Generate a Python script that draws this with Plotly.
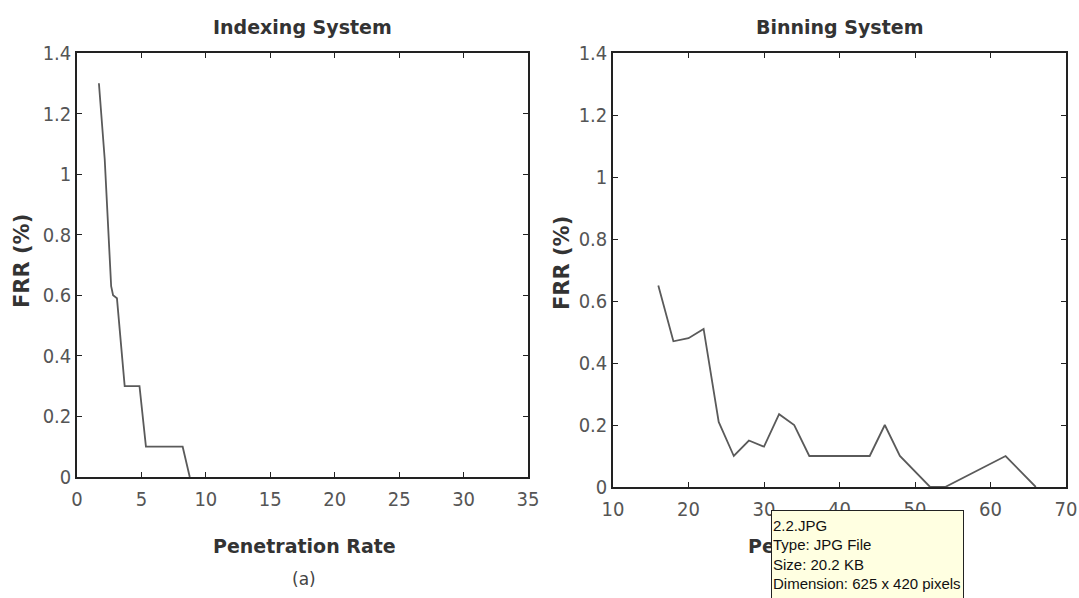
import plotly.graph_objects as go

# Indexing system: FRR (%) against penetration rate
idx_rate = [1.7, 2.0, 2.15, 2.65, 2.8, 3.1, 3.7, 4.85, 5.35, 8.2, 8.75]
idx_frr = [1.3, 1.15, 1.05, 0.63, 0.6, 0.59, 0.3, 0.3, 0.1, 0.1, 0.0]

# Binning system: FRR (%) against penetration rate
bin_rate = [16, 18, 20, 22, 24, 26, 28, 30, 32, 34, 36, 44, 46, 48, 52, 54, 62, 66]
bin_frr = [0.65, 0.47, 0.48, 0.51, 0.21, 0.1, 0.15, 0.13, 0.235, 0.2, 0.1, 0.1,
           0.2, 0.1, 0.0, 0.0, 0.1, 0.0]

left_xticks = [0, 5, 10, 15, 20, 25, 30, 35]
right_xticks = [10, 20, 30, 40, 50, 60, 70]
yticks = [0, 0.2, 0.4, 0.6, 0.8, 1.0, 1.2, 1.4]
ytick_text = ["0", "0.2", "0.4", "0.6", "0.8", "1", "1.2", "1.4"]

tooltip_lines = ["2.2.JPG", "Type: JPG File", "Size: 20.2 KB", "Dimension: 625 x 420 pixels"]

W, H = 1079, 598
LINE = "#5a5a5a"
TICKFONT = dict(family="Liberation Sans Narrow, DejaVu Sans Condensed, sans-serif", size=20, color="#555")
BOLD = dict(family="DejaVu Sans, Verdana, sans-serif", size=19, color="#333")


def px_x(p):
    return p / W


def px_y(p):
    return 1 - p / H


fig = go.Figure()
fig.add_trace(go.Scatter(x=idx_rate, y=idx_frr, mode="lines",
                         line=dict(color=LINE, width=1.8), xaxis="x", yaxis="y"))
fig.add_trace(go.Scatter(x=bin_rate, y=bin_frr, mode="lines",
                         line=dict(color=LINE, width=1.8), xaxis="x2", yaxis="y2"))

axis_common = dict(showgrid=False, zeroline=False, showline=True, linecolor="#222",
                   linewidth=1.5, mirror="ticks", ticks="inside", ticklen=5,
                   tickcolor="#222", tickfont=TICKFONT, automargin=False)

fig.update_layout(
    width=W, height=H, margin=dict(l=0, r=0, t=0, b=0),
    paper_bgcolor="white", plot_bgcolor="white", showlegend=False,
    xaxis=dict(domain=[px_x(77), px_x(528)], range=[0, 35], tickvals=left_xticks,
               anchor="y", ticklabelstandoff=3, **axis_common),
    yaxis=dict(domain=[px_y(477), px_y(53)], range=[0, 1.4], tickvals=yticks,
               ticktext=ytick_text, anchor="x", **axis_common),
    xaxis2=dict(domain=[px_x(613), px_x(1066)], range=[10, 70], tickvals=right_xticks,
                anchor="y2", ticklabelstandoff=3, **axis_common),
    yaxis2=dict(domain=[px_y(487), px_y(53)], range=[0, 1.4], tickvals=yticks,
                ticktext=ytick_text, anchor="x2", **axis_common),
)

annotations = [
    dict(text="<b>Indexing System</b>", x=px_x(302), y=px_y(27), font=BOLD),
    dict(text="<b>Binning System</b>", x=px_x(839), y=px_y(27), font=BOLD),
    dict(text="<b>Penetration Rate</b>", x=px_x(304), y=px_y(546), font=BOLD),
    dict(text="(a)", x=px_x(304), y=px_y(579),
         font=dict(family="DejaVu Sans, sans-serif", size=17, color="#444")),
    dict(text="<b>Penetration Rate</b>", x=px_x(839), y=px_y(546), font=BOLD),
    dict(text="<b>FRR (%)</b>", x=px_x(22), y=px_y(261), textangle=-90,
         font=dict(BOLD, size=21)),
    dict(text="<b>FRR (%)</b>", x=px_x(562), y=px_y(263), textangle=-90,
         font=dict(BOLD, size=21)),
]
for a in annotations:
    a.update(xref="paper", yref="paper", showarrow=False, xanchor="center", yanchor="middle")

# File-info tooltip box lying over the right axis label
annotations.append(dict(
    text="<br>".join(tooltip_lines), xref="paper", yref="paper", showarrow=False,
    x=px_x(771), y=px_y(510), xanchor="left", yanchor="top", align="left", valign="middle",
    width=189, height=85, borderpad=1, borderwidth=1, bordercolor="#222", bgcolor="#ffffe1",
    font=dict(family="Liberation Sans, Arial, sans-serif", size=15, color="#111"),
))

fig.update_layout(annotations=annotations)
fig.write_html("out.html")
